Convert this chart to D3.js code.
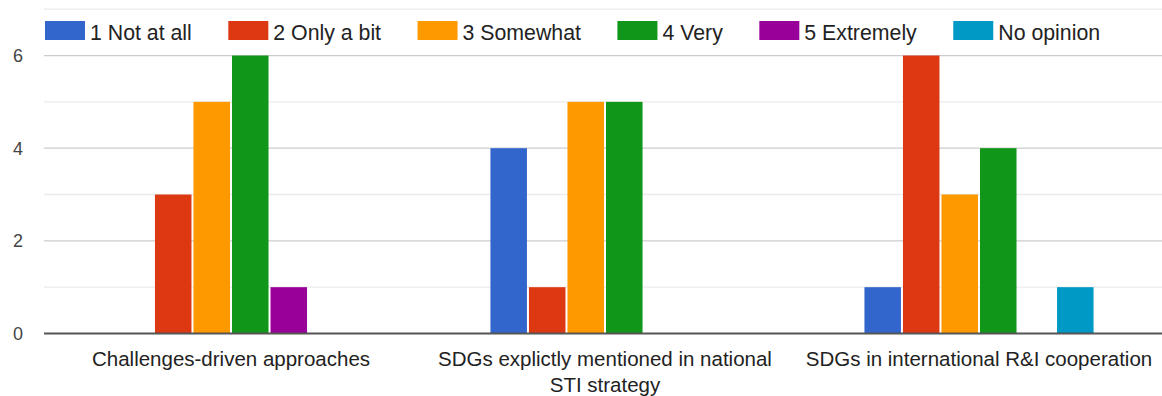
<!DOCTYPE html>
<html>
<head>
<meta charset="utf-8">
<script src="https://cdn.jsdelivr.net/npm/d3@7"></script>
<style>
  html, body { margin: 0; padding: 0; background: #fff; }
  svg { display: block; font-family: Arial, "Liberation Sans", sans-serif; }
</style>
</head>
<body>
<svg id="chart" width="1162" height="396"></svg>
<script>
// Survey answers: how strongly each topic is addressed
const categories = [
  "Challenges-driven approaches",
  "SDGs explictly mentioned in national STI strategy",
  "SDGs in international R&I cooperation"
];
const seriesNames = ["1 Not at all", "2 Only a bit", "3 Somewhat", "4 Very", "5 Extremely", "No opinion"];
const seriesColors = ["#3366cc", "#dc3912", "#ff9900", "#109618", "#990099", "#0099c6"];
// counts per category, one entry per series
const notAtAll   = [0, 4, 1];
const onlyABit   = [3, 1, 6];
const somewhat   = [5, 5, 3];
const very       = [6, 5, 4];
const extremely  = [1, 0, 0];
const noOpinion  = [0, 0, 1];
const seriesValues = [notAtAll, onlyABit, somewhat, very, extremely, noOpinion];
const yTickLabels = [0, 2, 4, 6];

const svg = d3.select("#chart");
const W = 1162, H = 396;
const plot = { left: 44, right: 1166, top: 9.2, bottom: 333.5 };

const x0 = d3.scaleBand().domain(categories).range([plot.left, plot.right]).paddingInner(0.382).paddingOuter(0.191);
const x1 = d3.scaleBand().domain(seriesNames).range([0, x0.bandwidth()]);
const y = d3.scaleLinear().domain([0, 7]).range([plot.bottom, plot.top]);

// gridlines: every unit, labelled ones darker
const gridVals = d3.range(1, 8);
svg.append("g").selectAll("line").data(gridVals).join("line")
  .attr("x1", plot.left).attr("x2", W)
  .attr("y1", d => y(d)).attr("y2", d => y(d))
  .attr("stroke", d => yTickLabels.includes(d) ? "#cccccc" : "#ebebeb")
  .attr("stroke-width", 1.3);

// y-axis labels
const yAxis = d3.axisLeft(y).tickValues(yTickLabels).tickSize(0).tickPadding(0).tickFormat(d3.format("d"));
const gy = svg.append("g").attr("transform", `translate(${plot.left - 21},0)`).call(yAxis);
gy.select(".domain").remove();
gy.selectAll("text").attr("font-size", 18).attr("fill", "#444").attr("font-family", "Arial, 'Liberation Sans', sans-serif").attr("dy", "0.34em");

// bars
const groups = svg.append("g").selectAll("g").data(categories).join("g")
  .attr("transform", d => `translate(${x0(d)},0)`);
groups.selectAll("rect")
  .data((c, ci) => seriesNames.map((s, si) => ({ s, si, v: seriesValues[si][ci] })).filter(d => d.v > 0))
  .join("rect")
  .attr("x", d => x1(d.s) + 1)
  .attr("width", x1.bandwidth() - 2)
  .attr("y", d => y(d.v))
  .attr("height", d => y(0) - y(d.v))
  .attr("fill", d => seriesColors[d.si]);

// baseline
svg.append("line")
  .attr("x1", plot.left).attr("x2", W)
  .attr("y1", y(0)).attr("y2", y(0))
  .attr("stroke", "#555").attr("stroke-width", 2);

// category labels, wrapped to the band width
const xAxis = d3.axisBottom(x0).tickSize(0).tickPadding(0);
const gx = svg.append("g").attr("transform", `translate(0,${y(0)})`).call(xAxis);
gx.select(".domain").remove();
gx.selectAll("text")
  .attr("font-size", 20.5).attr("fill", "#222").attr("font-family", "Arial, 'Liberation Sans', sans-serif")
  .attr("y", 0).attr("dy", null)
  .each(function(d) {
    const t = d3.select(this);
    const words = d.split(" ");
    const maxW = x0.step() - 8;
    t.text(null);
    let line = [];
    let lineNo = 0;
    let ts = t.append("tspan").attr("x", 0).attr("y", 32);
    words.forEach(w => {
      line.push(w);
      ts.text(line.join(" "));
      if (ts.node().getComputedTextLength() > maxW && line.length > 1) {
        line.pop();
        ts.text(line.join(" "));
        line = [w];
        lineNo++;
        ts = t.append("tspan").attr("x", 0).attr("y", 32 + lineNo * 26).text(w);
      }
    });
  });

// legend
const legend = svg.append("g").attr("transform", "translate(45,21)");
let lx = 0;
seriesNames.forEach((name, i) => {
  const item = legend.append("g").attr("transform", `translate(${lx},0)`);
  item.append("rect").attr("width", 40).attr("height", 19).attr("fill", seriesColors[i]);
  const txt = item.append("text").attr("x", 45).attr("y", 18.5)
    .attr("font-size", 21.3).attr("fill", "#222").text(name);
  lx += 45 + txt.node().getComputedTextLength() + 36.5;
});
</script>
</body>
</html>
